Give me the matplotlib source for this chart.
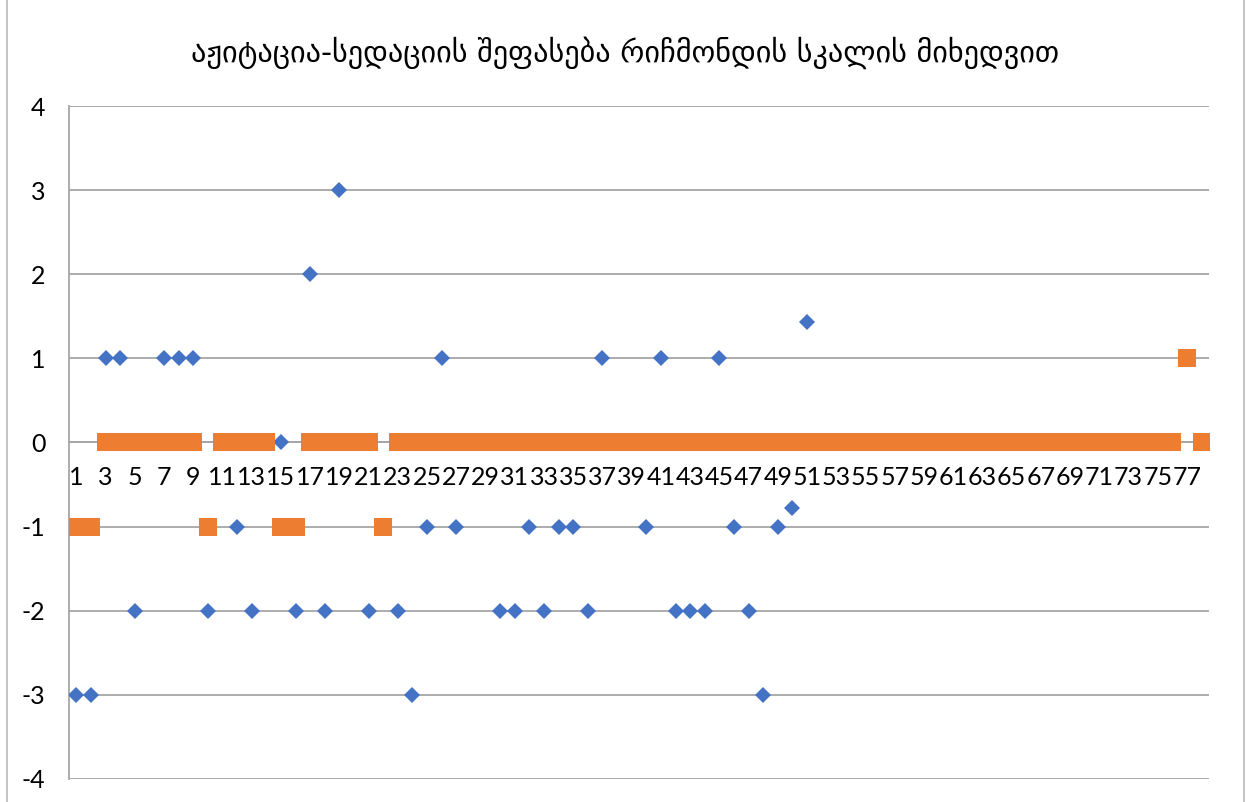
import matplotlib
matplotlib.use("Agg")
import matplotlib.pyplot as plt
from matplotlib.patches import Rectangle
import numpy as np

title = "აჟიტაცია-სედაციის შეფასება რიჩმონდის სკალის მიხედვით"

# Patient index 1..78
categories = list(range(1, 79))

# Richmond agitation-sedation scores, first series (patients 1..51)
series_blue = [-3, -3, 1, 1, -2, 0, 1, 1, 1, -2,
               0, -1, -2, 0, 0, -2, 2, -2, 3, 0,
               -2, -1, -2, -3, -1, 1, -1, 0, 0, -2,
               -2, -1, -2, -1, -1, -2, 1, 0, 0, -1,
               1, -2, -2, -2, 1, -1, -2, -3, -1, -0.78,
               1.43]

# Second series (patients 1..78)
series_orange = [-1, -1, 0, 0, 0, 0, 0, 0, 0, -1,
                 0, 0, 0, 0, -1, -1, 0, 0, 0, 0,
                 0, -1] + [0] * 54 + [1, 0]

y_ticks = [-4, -3, -2, -1, 0, 1, 2, 3, 4]
x_tick_labels = [str(c) for c in categories if c % 2 == 1]

BLUE = "#4472C4"
ORANGE = "#ED7D31"
GRID = "#A6A6A6"

W, H = 1251, 802
fig = plt.figure(figsize=(W / 100, H / 100), dpi=100)

# chart frame
fig.patches.append(Rectangle((7 / W, -0.01), (1244 - 7) / W, 1.02,
                             transform=fig.transFigure, fill=False,
                             edgecolor="#BFBFBF", linewidth=1.3))

ax = fig.add_axes([69 / W, 1 - 779 / H, (1209 - 69) / W, (779 - 106) / H])

xb = np.arange(1, len(series_blue) + 1)
xo = np.arange(1, len(series_orange) + 1)
ax.plot(xb, series_blue, linestyle="none", marker="D", markersize=8,
        color=BLUE, markeredgewidth=0, zorder=3)
ax.plot(xo, series_orange, linestyle="none", marker="s", markersize=12.5,
        color=ORANGE, markeredgewidth=0, zorder=4)

ax.set_xlim(0.5, len(categories) + 0.5)
ax.set_ylim(-4, 4)
ax.set_yticks(y_ticks)
ax.set_yticklabels([str(v) for v in y_ticks])
ax.set_xticks([c for c in categories if c % 2 == 1])
ax.set_xticklabels(x_tick_labels)

ax.yaxis.grid(True, color=GRID, linewidth=1.3, zorder=0)
ax.set_axisbelow(True)

for s in ["top", "right"]:
    ax.spines[s].set_visible(False)
ax.spines["left"].set_color(GRID)
ax.spines["left"].set_linewidth(1.3)
ax.spines["bottom"].set_position(("data", 0))
ax.spines["bottom"].set_color(GRID)
ax.spines["bottom"].set_linewidth(1.3)

ax.tick_params(axis="both", length=0, labelsize=18, labelcolor="black")
ax.tick_params(axis="x", pad=17)
ax.tick_params(axis="y", pad=17)
for lab in ax.get_xticklabels() + ax.get_yticklabels():
    lab.set_fontfamily("Lato")

fig.text(625 / W, 1 - 53 / H, title, ha="center", va="center",
         fontsize=21.8, family="DejaVu Sans", color="black")

fig.savefig("out.png", dpi=100)
